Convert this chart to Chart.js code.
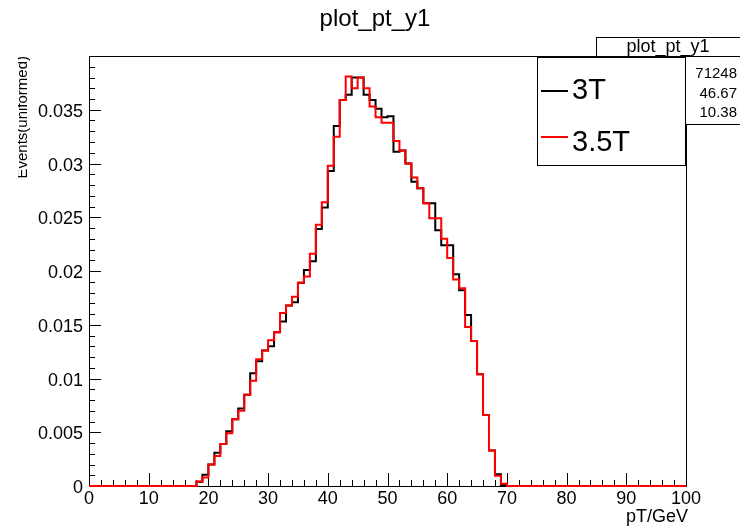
<!DOCTYPE html>
<html>
<head>
<meta charset="utf-8">
<title>plot_pt_y1</title>
<script src="https://cdn.jsdelivr.net/npm/chart.js@4/dist/chart.umd.min.js"></script>
<style>
  body { margin: 0; background: #fff; }
  canvas { display: block; }
</style>
</head>
<body>
<canvas id="chart" width="740" height="526"></canvas>
<script>
// binning: 100 bins of 1 GeV, 0..100
const xMin = 0;
const xMax = 100;
const binWidth = 1;
const yMax = 0.04;

// bin contents (normalised), bin 0 .. bin 99
const values3T = [
  0, 0, 0, 0, 0, 0, 0, 0, 0, 0,
  0, 0, 0, 0, 0, 0, 0, 0, 0.0004, 0.00105,
  0.0020, 0.0031, 0.0039, 0.0051, 0.0062, 0.0072, 0.0085, 0.0105, 0.0116, 0.0126,
  0.0130, 0.0143, 0.0153, 0.0168, 0.0171, 0.0189, 0.0201, 0.0209, 0.0239, 0.0259,
  0.0293, 0.0335, 0.0359, 0.0364, 0.0380, 0.0380, 0.0364, 0.0359, 0.0351, 0.0343,
  0.0344, 0.0311, 0.0312, 0.0300, 0.0283, 0.0277, 0.0263, 0.0263, 0.0238, 0.0224,
  0.0224, 0.0197, 0.0182, 0.0159, 0.0135, 0.0104, 0.0066, 0.0033, 0.0011, 0.0001,
  0, 0, 0, 0, 0, 0, 0, 0, 0, 0,
  0, 0, 0, 0, 0, 0, 0, 0, 0, 0,
  0, 0, 0, 0, 0, 0, 0, 0, 0, 0
];
const values35T = [
  0, 0, 0, 0, 0, 0, 0, 0, 0, 0,
  0, 0, 0, 0, 0, 0, 0, 0, 0.00043, 0.0008,
  0.0020, 0.0028, 0.0039, 0.0049, 0.0062, 0.0070, 0.0085, 0.0098, 0.0118, 0.0126,
  0.01355, 0.0143, 0.0161, 0.0168, 0.0176, 0.0189, 0.0195, 0.0216, 0.0243, 0.0264,
  0.0298, 0.0325, 0.0359, 0.0381, 0.0370, 0.0380, 0.0370, 0.0353, 0.0343, 0.0338,
  0.0338, 0.0321, 0.0312, 0.0300, 0.0287, 0.0277, 0.0263, 0.0249, 0.0249, 0.0230,
  0.0212, 0.0192, 0.0184, 0.0148, 0.0135, 0.0104, 0.0066, 0.0033, 0.00095, 0.0002,
  0, 0, 0, 0, 0, 0, 0, 0, 0, 0,
  0, 0, 0, 0, 0, 0, 0, 0, 0, 0,
  0, 0, 0, 0, 0, 0, 0, 0, 0, 0
];

const seriesLabels = ['3T', '3.5T'];
const xTickValues = [0, 10, 20, 30, 40, 50, 60, 70, 80, 90, 100];
const xTickLabels = ['0', '10', '20', '30', '40', '50', '60', '70', '80', '90', '100'];
const yTickValues = [0, 0.005, 0.01, 0.015, 0.02, 0.025, 0.03, 0.035];
const yTickLabels = ['0', '0.005', '0.01', '0.015', '0.02', '0.025', '0.03', '0.035'];
const titleText = 'plot_pt_y1';
const xTitle = 'pT/GeV';
const yTitle = 'Events(uniformed)';
const statsName = 'plot_pt_y1';
const statsValues = ['71248', '46.67', '10.38'];

const FONT = '"Liberation Sans", Arial, Helvetica, sans-serif';

// histogram -> step points (low edge of each bin, plus the last high edge)
function histPoints(values) {
  let pts = [];
  for (let i = 0; i < values.length; i++) {
    pts.push({ x: xMin + i * binWidth, y: values[i] });
  }
  pts.push({ x: xMin + values.length * binWidth, y: values[values.length - 1] });
  return pts;
}

// draws the ROOT-like frame, ticks, labels, stats box and legend
const rootStyle = {
  id: 'rootStyle',
  beforeDraw(chart) {
    const ctx = chart.ctx;
    ctx.save();
    ctx.fillStyle = '#fff';
    ctx.fillRect(0, 0, chart.width, chart.height);
    ctx.restore();
  },
  beforeDatasetsDraw(chart) {
    const ctx = chart.ctx;
    const a = chart.chartArea;
    const xs = chart.scales.x;
    const ys = chart.scales.y;
    ctx.save();
    ctx.strokeStyle = '#000';
    ctx.lineWidth = 1;
    ctx.strokeRect(Math.round(a.left) + 0.5, Math.round(a.top) + 0.5,
      Math.round(a.right - a.left), Math.round(a.bottom - a.top));
    ctx.beginPath();
    // x ticks: major every 10, minor every 2
    for (let i = 0; i <= 50; i++) {
      const v = xMin + i * 2;
      const px = Math.round(xs.getPixelForValue(v)) + 0.5;
      const len = (i % 5 === 0) ? 13 : 6;
      ctx.moveTo(px, a.bottom);
      ctx.lineTo(px, a.bottom - len);
    }
    // y ticks: major every 0.005, minor every 0.001
    for (let i = 0; i <= 40; i++) {
      const v = i * 0.001;
      const py = Math.round(ys.getPixelForValue(v)) + 0.5;
      const len = (i % 5 === 0) ? 12 : 6;
      ctx.moveTo(a.left, py);
      ctx.lineTo(a.left + len, py);
    }
    ctx.stroke();
    ctx.restore();
  },
  afterDraw(chart) {
    const ctx = chart.ctx;
    const a = chart.chartArea;
    const xs = chart.scales.x;
    const ys = chart.scales.y;
    ctx.save();
    ctx.fillStyle = '#000';

    // tick labels
    ctx.font = '18px ' + FONT;
    ctx.textAlign = 'center';
    ctx.textBaseline = 'alphabetic';
    xTickValues.forEach((v, i) => {
      ctx.fillText(xTickLabels[i], xs.getPixelForValue(v), 504);
    });
    ctx.textAlign = 'right';
    yTickValues.forEach((v, i) => {
      ctx.fillText(yTickLabels[i], a.left - 6, ys.getPixelForValue(v) + 7);
    });

    // title and axis titles
    ctx.font = '24px ' + FONT;
    ctx.textAlign = 'center';
    ctx.fillText(titleText, 375, 26);
    ctx.font = '18px ' + FONT;
    ctx.textAlign = 'right';
    ctx.fillText(xTitle, a.right + 2, 522);

    // y title, its top is cut by the pad edge like in the original
    ctx.save();
    ctx.beginPath();
    ctx.rect(18, 0, 40, chart.height);
    ctx.clip();
    ctx.translate(27, a.top);
    ctx.rotate(-Math.PI / 2);
    ctx.font = '15px ' + FONT;
    ctx.textAlign = 'right';
    ctx.fillText(yTitle, 0, 0);
    ctx.restore();

    // stats box (partly hidden by the legend)
    ctx.fillStyle = '#fff';
    ctx.fillRect(596, 37, 160, 87);
    ctx.strokeStyle = '#000';
    ctx.lineWidth = 1;
    ctx.strokeRect(596.5, 37.5, 160, 87);
    ctx.beginPath();
    ctx.moveTo(596, 56.5);
    ctx.lineTo(740, 56.5);
    ctx.stroke();
    ctx.fillStyle = '#000';
    ctx.font = '18px ' + FONT;
    ctx.textAlign = 'center';
    ctx.fillText(statsName, 668, 52);
    ctx.font = '15px ' + FONT;
    ctx.textAlign = 'right';
    const statBase = [78, 98, 117];
    statsValues.forEach((s, i) => ctx.fillText(s, 737, statBase[i]));

    // legend
    ctx.fillStyle = '#fff';
    ctx.fillRect(537, 57, 148, 108);
    ctx.strokeRect(537.5, 57.5, 148, 108);
    const legColors = ['#000', '#ff0000'];
    const legLineY = [91, 137];
    const legTextY = [99, 151];
    ctx.font = '29px ' + FONT;
    ctx.textAlign = 'left';
    seriesLabels.forEach((lab, i) => {
      ctx.strokeStyle = legColors[i];
      ctx.lineWidth = 2;
      ctx.beginPath();
      ctx.moveTo(541, legLineY[i]);
      ctx.lineTo(568, legLineY[i]);
      ctx.stroke();
      ctx.fillStyle = '#000';
      ctx.fillText(lab, 572, legTextY[i]);
    });
    ctx.restore();
  }
};

new Chart(document.getElementById('chart'), {
  type: 'line',
  data: {
    datasets: [{
      label: seriesLabels[0],
      data: histPoints(values3T),
      borderColor: '#000',
      borderWidth: 2,
      stepped: 'before',
      pointRadius: 0,
      fill: false,
      clip: 4,
      order: 2,
    }, {
      label: seriesLabels[1],
      data: histPoints(values35T),
      borderColor: '#ff0000',
      borderWidth: 2,
      stepped: 'before',
      pointRadius: 0,
      fill: false,
      clip: 4,
      order: 1,
    }]
  },
  options: {
    responsive: false,
    animation: false,
    devicePixelRatio: 1,
    layout: {
      padding: { left: 89, right: 54, top: 56, bottom: 40 }
    },
    scales: {
      x: { type: 'linear', min: xMin, max: xMax, display: false },
      y: { type: 'linear', min: 0, max: yMax, display: false }
    },
    plugins: {
      legend: { display: false },
      tooltip: { enabled: false },
      title: { display: false }
    }
  },
  plugins: [rootStyle]
});
</script>
</body>
</html>
